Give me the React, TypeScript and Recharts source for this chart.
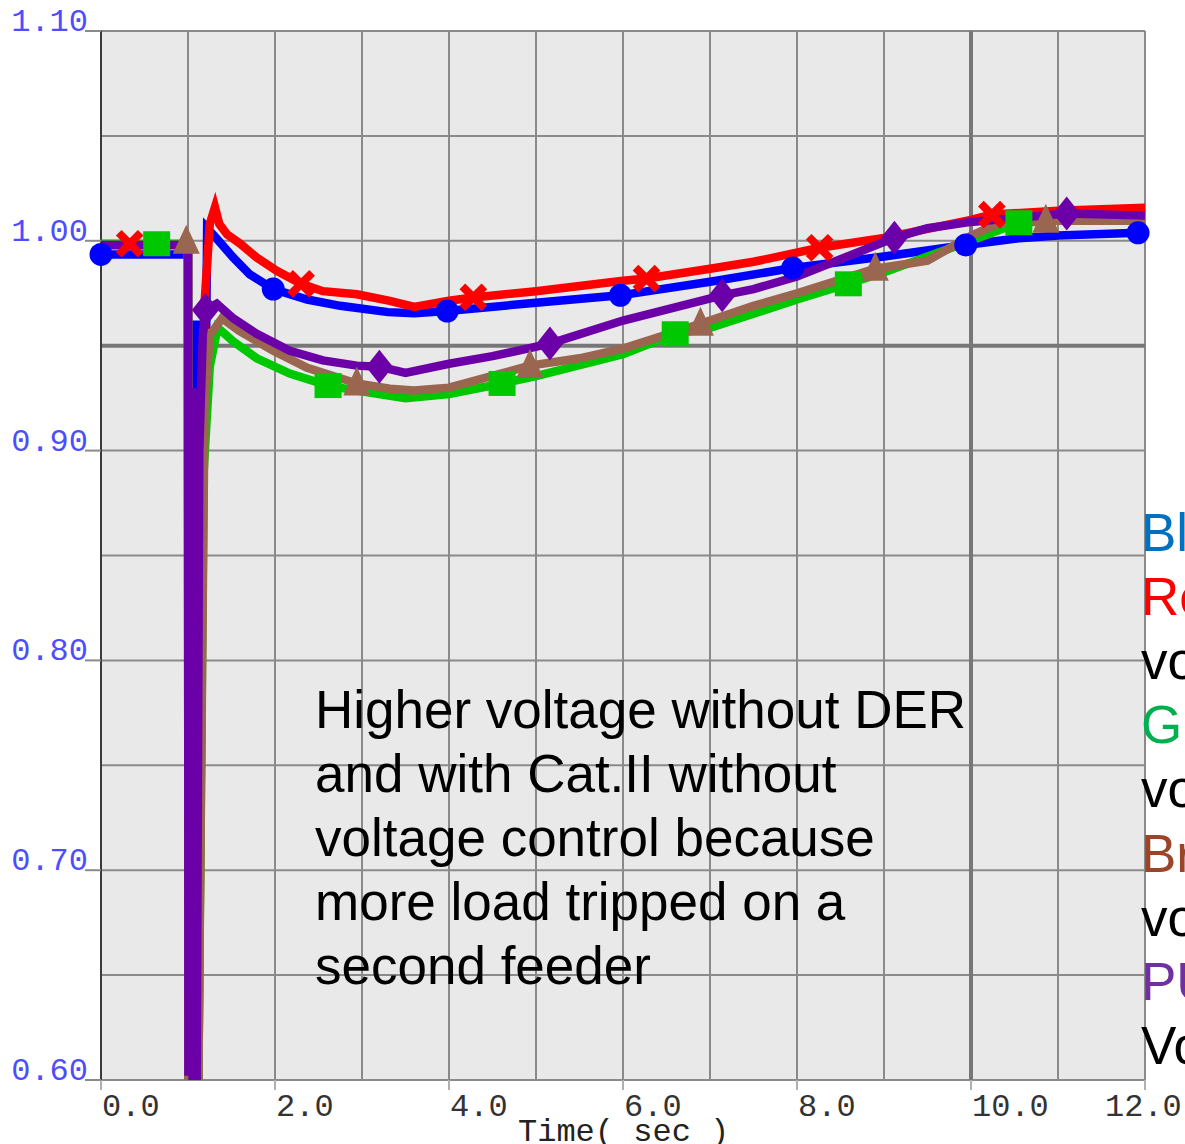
import { ComposedChart, Line, XAxis, YAxis, CartesianGrid } from "recharts";

// time (s) / voltage (pu)
const blueT = [0, 1.0, 1.005, 1.07, 1.08, 1.21, 1.22, 1.33, 1.52, 1.71, 1.98, 2.37, 2.75, 3.3, 3.6, 3.98, 5.0, 5.97, 7.0, 7.95, 9.0, 9.94, 10.5, 11.0, 11.92, 12.0];
const blueV = [0.9935, 0.9935, 0.602, 0.602, 0.96, 0.96, 1.006, 1.001, 0.992, 0.984, 0.977, 0.972, 0.969, 0.966, 0.9655, 0.9665, 0.9705, 0.974, 0.9805, 0.987, 0.9925, 0.998, 1.001, 1.0025, 1.0038, 1.0038];

const redT = [0, 1.0, 1.005, 1.12, 1.19, 1.25, 1.31, 1.36, 1.45, 1.6, 1.79, 2.02, 2.3, 2.55, 2.94, 3.32, 3.6, 4.0, 4.28, 5.0, 6.0, 6.27, 7.0, 7.5, 8.26, 9.0, 10.0, 10.24, 11.0, 12.0];
const redV = [0.998, 0.998, 0.602, 0.602, 0.97, 1.008, 1.016, 1.008, 1.003, 0.9986, 0.992, 0.9857, 0.9795, 0.976, 0.9745, 0.9714, 0.9685, 0.9714, 0.973, 0.976, 0.981, 0.982, 0.9867, 0.99, 0.9967, 1.0014, 1.01, 1.0125, 1.0143, 1.0157];

const greenT = [0, 1.0, 1.005, 1.12, 1.18, 1.25, 1.34, 1.52, 1.79, 2.17, 2.61, 2.94, 3.5, 4.0, 4.61, 5.0, 6.0, 6.6, 7.0, 8.0, 8.59, 9.0, 10.0, 10.55, 11.0, 12.0];
const greenV = [0.9986, 0.9986, 0.602, 0.602, 0.89, 0.94, 0.9586, 0.952, 0.944, 0.9367, 0.931, 0.9286, 0.925, 0.927, 0.932, 0.9355, 0.946, 0.9557, 0.9585, 0.972, 0.9795, 0.985, 1.0, 1.0086, 1.0095, 1.0098];

const brownT = [0, 1.0, 1.005, 1.12, 1.19, 1.25, 1.39, 1.59, 1.98, 2.37, 2.94, 3.32, 3.6, 4.0, 4.93, 5.5, 6.0, 6.89, 7.5, 8.0, 8.9, 9.5, 10.0, 10.3, 10.86, 12.0];
const brownV = [0.998, 0.998, 0.602, 0.602, 0.92, 0.955, 0.963, 0.957, 0.9476, 0.9395, 0.932, 0.9295, 0.9286, 0.93, 0.9405, 0.944, 0.9486, 0.9605, 0.969, 0.975, 0.9867, 0.9905, 1.0024, 1.008, 1.0095, 1.0095];

// purple oscillates during the fault, which shows as one wide bar
const purpleT = [0, 1.0, 1.005, 1.05, 1.052, 1.1, 1.13, 1.17, 1.2, 1.33, 1.52, 1.79, 2.17, 2.55, 2.94, 3.2, 3.5, 4.0, 4.5, 5.16, 6.0, 7.14, 7.5, 8.0, 9.12, 9.5, 10.0, 11.1, 12.0];
const purpleV = [0.998, 0.998, 0.602, 0.93, 0.602, 0.602, 0.9, 0.955, 0.967, 0.97, 0.963, 0.9557, 0.9476, 0.943, 0.9405, 0.94, 0.937, 0.9414, 0.945, 0.951, 0.962, 0.974, 0.977, 0.983, 1.0014, 1.006, 1.009, 1.013, 1.012];

// marker positions
const blueMarkT = [0, 1.98, 3.98, 5.97, 7.95, 9.94, 11.92];
const blueMarkV = [0.9935, 0.977, 0.9665, 0.974, 0.987, 0.998, 1.0038];
const redMarkT = [0.33, 2.3, 4.28, 6.27, 8.26, 10.24];
const redMarkV = [0.9986, 0.9795, 0.973, 0.982, 0.9967, 1.0125];
const greenMarkT = [0.64, 2.61, 4.61, 6.6, 8.59, 10.55];
const greenMarkV = [0.9986, 0.931, 0.932, 0.9557, 0.9795, 1.0086];
const brownMarkT = [0.98, 2.94, 4.93, 6.89, 8.9, 10.86];
const brownMarkV = [0.9995, 0.932, 0.9405, 0.9605, 0.9867, 1.0095];
const purpleMarkT = [1.2, 3.2, 5.16, 7.14, 9.12, 11.1];
const purpleMarkV = [0.967, 0.94, 0.951, 0.974, 1.0014, 1.013];

const xTicks = [0, 2, 4, 6, 8, 10, 12];
const yTicks = [0.6, 0.7, 0.8, 0.9, 1.0, 1.1];
const gridX = [0, 1, 2, 3, 4, 5, 6, 7, 8, 9, 10, 11, 12];
const gridY = [0.6, 0.65, 0.7, 0.75, 0.8, 0.85, 0.9, 0.95, 1.0, 1.05, 1.1];

const note = [
  "Higher voltage without DER",
  "and with Cat.II without",
  "voltage control because",
  "more load tripped on a",
  "second feeder",
];

const legend = [
  { text: "Blue: without DER", color: "#0070c0" },
  { text: "Red: Cat.II without", color: "#ff0000" },
  { text: "voltage control", color: "#000000" },
  { text: "Green: Cat.II with", color: "#00b050" },
  { text: "voltage control", color: "#000000" },
  { text: "Brown: Cat.III without", color: "#9a4428" },
  { text: "voltage control", color: "#000000" },
  { text: "PURPLE: Cat.III with", color: "#7030a0" },
  { text: "Voltage control", color: "#000000" },
];

const pts = (t: number[], v: number[]) => t.map((x, i) => ({ t: x, v: v[i] }));

const MONO = "'Liberation Mono', 'Courier New', monospace";
const SANS = "'Liberation Sans', Arial, sans-serif";

const BLUE = "#0000ff";
const RED = "#ff0000";
const GREEN = "#00c800";
const BROWN = "#9b6650";
const PURPLE = "#6c00a8";

const CircleDot = (p: any) => (
  <circle key={p.index} cx={p.cx} cy={p.cy} r={11.5} fill={BLUE} />
);
const CrossDot = (p: any) => (
  <path
    key={p.index}
    d={`M${p.cx - 11},${p.cy - 11}L${p.cx + 11},${p.cy + 11}M${p.cx + 11},${p.cy - 11}L${p.cx - 11},${p.cy + 11}`}
    stroke={RED}
    strokeWidth={8}
    fill="none"
  />
);
const SquareDot = (p: any) => (
  <rect key={p.index} x={p.cx - 13.5} y={p.cy - 12.5} width={27} height={25} fill={GREEN} />
);
const TriangleDot = (p: any) => (
  <path
    key={p.index}
    d={`M${p.cx},${p.cy - 17}L${p.cx + 13.5},${p.cy + 12}L${p.cx - 13.5},${p.cy + 12}Z`}
    fill={BROWN}
  />
);
const DiamondDot = (p: any) => (
  <path
    key={p.index}
    d={`M${p.cx},${p.cy - 17}L${p.cx + 13.5},${p.cy}L${p.cx},${p.cy + 17}L${p.cx - 13.5},${p.cy}Z`}
    fill={PURPLE}
  />
);

const XTick = (p: any) => {
  const v = p.payload.value;
  return (
    <text
      x={v === 12 ? p.x - 40 : p.x + 1}
      y={p.y + 24}
      fontFamily={MONO}
      fontSize={32}
      fill="#333"
    >
      {v.toFixed(1)}
    </text>
  );
};

const YTick = (p: any) => (
  <text x={p.x + 5} y={p.y} textAnchor="end" fontFamily={MONO} fontSize={32} fill="#4d4dff">
    {p.payload.value.toFixed(2)}
  </text>
);

const series = [
  { t: blueT, v: blueV, mt: blueMarkT, mv: blueMarkV, color: BLUE, dot: CircleDot },
  { t: redT, v: redV, mt: redMarkT, mv: redMarkV, color: RED, dot: CrossDot },
  { t: greenT, v: greenV, mt: greenMarkT, mv: greenMarkV, color: GREEN, dot: SquareDot },
  { t: brownT, v: brownV, mt: brownMarkT, mv: brownMarkV, color: BROWN, dot: TriangleDot },
  { t: purpleT, v: purpleV, mt: purpleMarkT, mv: purpleMarkV, color: PURPLE, dot: DiamondDot },
];

export default function App() {
  return (
    <div
      style={{
        position: "absolute",
        left: 0,
        top: 0,
        width: 1185,
        height: 1144,
        overflow: "hidden",
        background: "#fff",
      }}
    >
      <ComposedChart width={1185} height={1144} margin={{ top: 31, right: 40, left: 0, bottom: 0 }}>
        <CartesianGrid
          horizontalValues={gridY}
          verticalValues={gridX}
          stroke="#8a8a8a"
          strokeWidth={2}
          fill="#e9e9e9"
          fillOpacity={1}
        />
        <CartesianGrid
          horizontalValues={[0.95]}
          verticalValues={[10]}
          stroke="#777"
          strokeWidth={4}
          fill="none"
        />
        <CartesianGrid horizontal={false} verticalValues={[0]} stroke="#3a3a3a" strokeWidth={2} fill="none" />
        <XAxis
          dataKey="t"
          type="number"
          domain={[0, 12]}
          ticks={xTicks}
          height={64}
          axisLine={false}
          tickSize={10}
          tickLine={{ stroke: "#b0b0b0", strokeWidth: 2 }}
          tick={XTick}
        />
        <YAxis
          dataKey="v"
          type="number"
          domain={[0.6, 1.1]}
          ticks={yTicks}
          width={101}
          axisLine={false}
          tickSize={16}
          tickLine={{ stroke: "#8a8a8a", strokeWidth: 2 }}
          tick={YTick}
        />
        {series.flatMap((s, i) => [
          <Line
            key={`line-${i}`}
            data={pts(s.t, s.v)}
            dataKey="v"
            type="linear"
            stroke={s.color}
            strokeWidth={8.5}
            dot={false}
            activeDot={false}
            isAnimationActive={false}
          />,
          <Line
            key={`mark-${i}`}
            data={pts(s.mt, s.mv)}
            dataKey="v"
            stroke="none"
            dot={s.dot}
            activeDot={false}
            isAnimationActive={false}
          />,
        ])}
      </ComposedChart>
      <svg
        width={1185}
        height={1144}
        style={{ position: "absolute", left: 0, top: 0, pointerEvents: "none" }}
      >
        {note.map((line, i) => (
          <text key={i} x={315} y={728 + i * 64} fontFamily={SANS} fontSize={53} fill="#000">
            {line}
          </text>
        ))}
        {legend.map((l, i) => (
          <text key={i} x={1141} y={551 + i * 64.1} fontFamily={SANS} fontSize={53} fill={l.color}>
            {l.text}
          </text>
        ))}
        <text x={518} y={1141} fontFamily={MONO} fontSize={32} fill="#222">
          Time( sec )
        </text>
      </svg>
    </div>
  );
}
